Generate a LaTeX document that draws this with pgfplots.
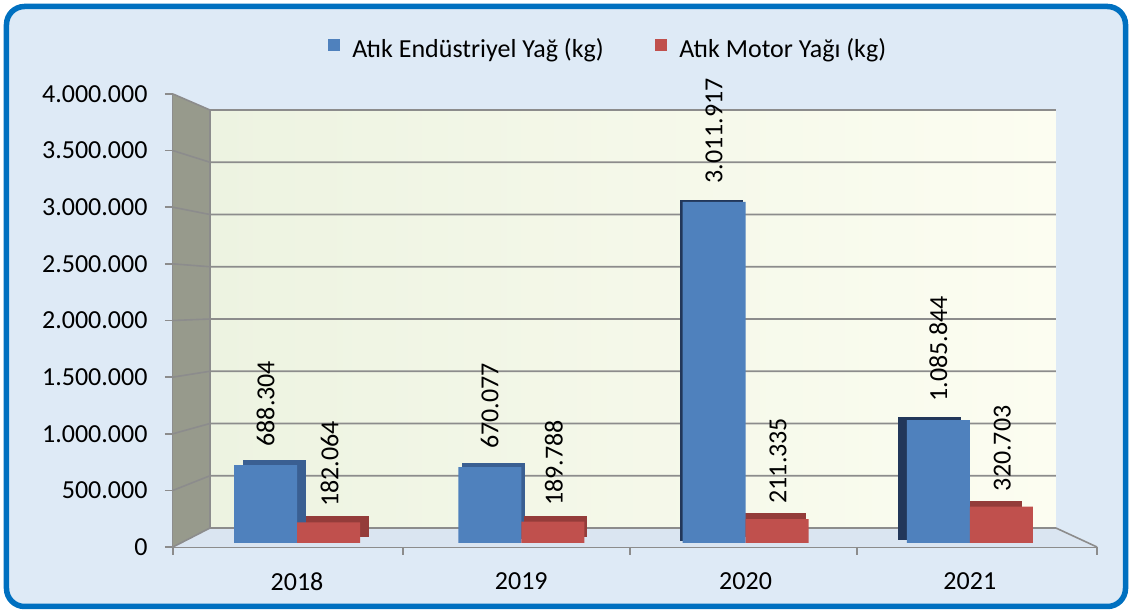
\documentclass[border=0pt]{standalone}
\usepackage{pgfplots}
\pgfplotsset{compat=1.18}
\usepackage{fontspec}
\setmainfont{Carlito}
\definecolor{bgblue}{HTML}{DEEAF6}
\definecolor{floorblue}{HTML}{DAE5F1}
\definecolor{frameblue}{HTML}{0070C0}
\definecolor{barblue}{HTML}{4F81BD}
\definecolor{barred}{HTML}{C0504D}
\definecolor{gridgray}{HTML}{8C8C8C}
\definecolor{wallgray}{HTML}{979A8C}
\definecolor{blueside}{HTML}{3A5F92}
\definecolor{bluedark}{HTML}{22375A}
\definecolor{redside}{HTML}{943C3A}
\definecolor{wallL}{HTML}{EDF3E1}
\definecolor{wallR}{HTML}{FCFDF1}
\newcommand{\chartfont}{\fontsize{26}{30}\selectfont}
\begin{document}
\begin{tikzpicture}[x=1pt,y=1pt]
\useasboundingbox (-173,-65) rectangle (959,547);
\fill[white] (-173,-65) rectangle (959,547);
\draw[frameblue, line width=5.5pt, fill=bgblue, rounded corners=18pt] (-166.5,-59.5) rectangle (952.5,540.5);
\begin{axis}[
  at={(0,0)}, anchor=south west,
  scale only axis, width=924pt, height=453pt,
  xmin=-0.553, xmax=3.567, ymin=0, ymax=4000000,
  scaled y ticks=false,
  clip=false,
  axis x line*=bottom, axis y line*=left,
  axis line style={gridgray, line width=1.6pt, -},
  tick align=outside,
  major tick length=8pt, minor tick length=8pt,
  xtick={0,1,2,3}, xticklabels={2018,2019,2020,2021},
  minor xtick={-0.553,0.473,1.485,2.497,3.567},
  major x tick style={draw=none},
  minor x tick style={gridgray, line width=1.6pt},
  ytick={0,500000,1000000,1500000,2000000,2500000,3000000,3500000,4000000},
  yticklabels={0,500.000,1.000.000,1.500.000,2.000.000,2.500.000,3.000.000,3.500.000,4.000.000},
  y tick style={gridgray, line width=1.6pt},
  tick label style={font=\chartfont},
  xticklabel style={yshift=-14pt},
  yticklabel style={xshift=-14pt},
  legend style={at={(0.4708,1.099)}, anchor=center, draw=none, fill=none,
    font=\chartfont, legend columns=2,
    /tikz/every odd column/.append style={column sep=10pt},
    /tikz/every even column/.append style={column sep=49pt}},
  legend image code/.code={\fill[#1] (0pt,-6pt) rectangle (12.5pt,6.5pt);},
]
% left wall
\fill[wallgray] (rel axis cs:0,1) -- (rel axis cs:0.04,0.9647) -- (rel axis cs:0.04,0.0419) -- (rel axis cs:0,0) -- cycle;
% back wall
\fill[left color=wallL, right color=wallR] (rel axis cs:0.04,0.0419) rectangle (rel axis cs:0.9556,0.9647);
% floor
\fill[floorblue] (rel axis cs:0,0) -- (rel axis cs:0.04,0.0419) -- (rel axis cs:0.9556,0.0419) -- (rel axis cs:1,0) -- cycle;
\draw[gridgray, line width=1.6pt] (rel axis cs:0.9556,0.0419) -- (rel axis cs:1,0);
\draw[gridgray, line width=1.2pt] (rel axis cs:0.04,0.0419) -- (rel axis cs:0.04,0.9647);
% grid lines
\draw[gridgray, line width=1.6pt] (rel axis cs:0,0) -- (rel axis cs:0.04,0.0419) -- (rel axis cs:0.9556,0.0419);
\draw[gridgray, line width=1.6pt] (rel axis cs:0,0.125) -- (rel axis cs:0.04,0.15725) -- (rel axis cs:0.9556,0.15725);
\draw[gridgray, line width=1.6pt] (rel axis cs:0,0.25) -- (rel axis cs:0.04,0.2726) -- (rel axis cs:0.9556,0.2726);
\draw[gridgray, line width=1.6pt] (rel axis cs:0,0.375) -- (rel axis cs:0.04,0.38795) -- (rel axis cs:0.9556,0.38795);
\draw[gridgray, line width=1.6pt] (rel axis cs:0,0.5) -- (rel axis cs:0.04,0.5033) -- (rel axis cs:0.9556,0.5033);
\draw[gridgray, line width=1.6pt] (rel axis cs:0,0.625) -- (rel axis cs:0.04,0.61865) -- (rel axis cs:0.9556,0.61865);
\draw[gridgray, line width=1.6pt] (rel axis cs:0,0.75) -- (rel axis cs:0.04,0.734) -- (rel axis cs:0.9556,0.734);
\draw[gridgray, line width=1.6pt] (rel axis cs:0,0.875) -- (rel axis cs:0.04,0.84935) -- (rel axis cs:0.9556,0.84935);
\draw[gridgray, line width=1.6pt] (rel axis cs:0,1) -- (rel axis cs:0.04,0.9647) -- (rel axis cs:0.9556,0.9647);
% depth of bars
\addplot[ybar, bar width=63pt, bar shift=-31.5pt, fill=blueside, draw=none, xshift=9pt, yshift=9pt, forget plot] coordinates {(0,688304)};
\addplot[ybar, bar width=63pt, bar shift=31.5pt, fill=redside, draw=none, xshift=9pt, yshift=10pt, forget plot] coordinates {(0,182064)};
\addplot[ybar, bar width=63pt, bar shift=-31.5pt, fill=blueside, draw=none, xshift=4pt, yshift=8pt, forget plot] coordinates {(1,670077)};
\addplot[ybar, bar width=63pt, bar shift=31.5pt, fill=redside, draw=none, xshift=3pt, yshift=10pt, forget plot] coordinates {(1,189788)};
\addplot[ybar, bar width=63pt, bar shift=-31.5pt, fill=bluedark, draw=none, xshift=-3pt, yshift=6pt, forget plot] coordinates {(2,3011917)};
\addplot[ybar, bar width=63pt, bar shift=31.5pt, fill=redside, draw=none, xshift=-3pt, yshift=10pt, forget plot] coordinates {(2,211335)};
\addplot[ybar, bar width=63pt, bar shift=-31.5pt, fill=bluedark, draw=none, xshift=-9pt, yshift=7pt, forget plot] coordinates {(3,1085844)};
\addplot[ybar, bar width=63pt, bar shift=31.5pt, fill=redside, draw=none, xshift=-11pt, yshift=10pt, forget plot] coordinates {(3,320703)};
% front faces
\addplot[ybar, bar width=63pt, bar shift=-31.5pt, fill=barblue, draw=none, yshift=4pt,
  point meta=explicit symbolic, nodes near coords,
  nodes near coords style={xshift=-31.5pt, yshift=15pt, rotate=90, anchor=west, font=\chartfont, black}]
  coordinates {(0,688304) [688.304] (1,670077) [670.077] (2,3011917) [3.011.917] (3,1085844) [1.085.844]};
\addlegendentry{Atık Endüstriyel Yağ (kg)}
\addplot[ybar, bar width=63pt, bar shift=31.5pt, fill=barred, draw=none, yshift=4pt,
  point meta=explicit symbolic, nodes near coords,
  nodes near coords style={xshift=32.5pt, yshift=12pt, rotate=90, anchor=west, font=\chartfont, black}]
  coordinates {(0,182064) [182.064] (1,189788) [189.788] (2,211335) [211.335] (3,320703) [320.703]};
\addlegendentry{Atık Motor Yağı (kg)}
\end{axis}
\end{tikzpicture}
\end{document}
